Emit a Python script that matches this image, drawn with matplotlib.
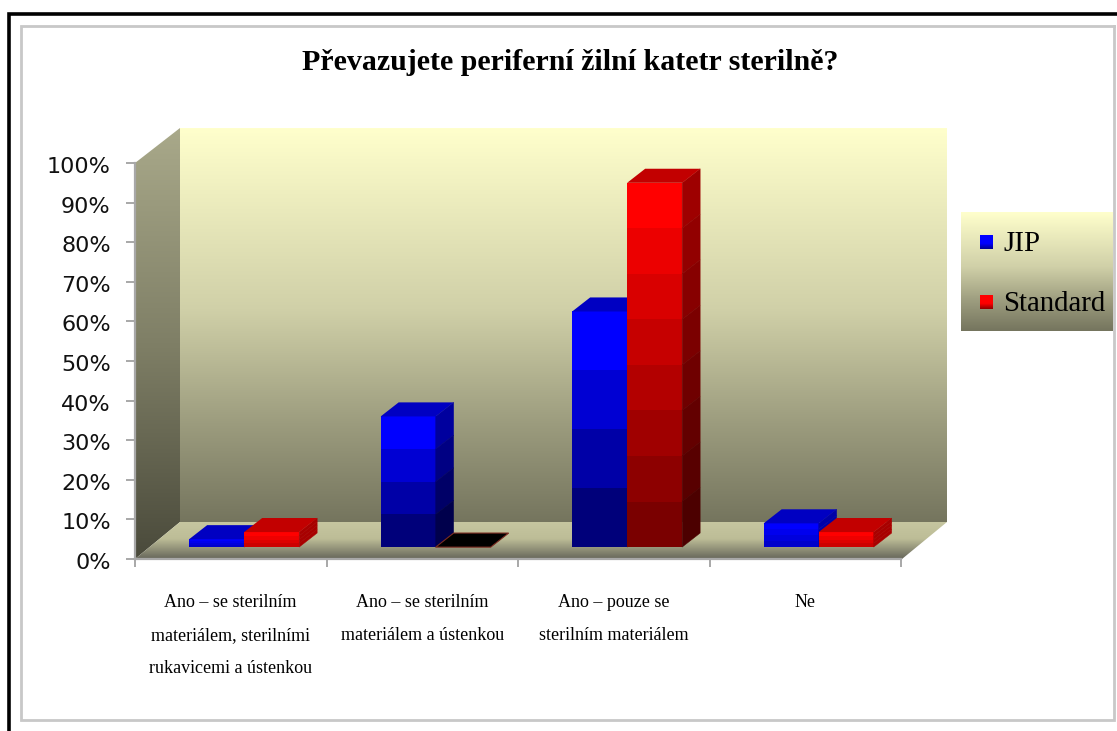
import matplotlib
matplotlib.use('Agg')
import matplotlib.pyplot as plt
import numpy as np
from matplotlib.colors import LinearSegmentedColormap, to_rgb
from matplotlib.patches import Polygon
from matplotlib.transforms import ScaledTranslation

categorias = ['Ano – se sterilním\nmateriálem, sterilními\nrukavicemi a ústenkou',
              'Ano – se sterilním\nmateriálem a ústenkou',
              'Ano – pouze se\nsterilním materiálem',
              'Ne']
jip = [2, 33, 59.5, 6]
standard = [3.8, 0, 92, 3.8]
serie_nomes = ['JIP', 'Standard']
yticks = [0, 10, 20, 30, 40, 50, 60, 70, 80, 90, 100]

W, H = 1117, 731
SERIF = 'Liberation Serif'

fig = plt.figure(figsize=(W / 100, H / 100), dpi=100)

# fundo em pixels: molduras e paredes do grafico
bg = fig.add_axes([0, 0, 1, 1])
bg.set_xlim(0, W)
bg.set_ylim(H, 0)
bg.axis('off')


def gradiente(axe, pts, stops):
    xs = [p[0] for p in pts]
    ys = [p[1] for p in pts]
    cmap = LinearSegmentedColormap.from_list('g', stops)
    grad = np.linspace(0, 1, 256).reshape(-1, 1)
    im = axe.imshow(grad, cmap=cmap, aspect='auto', interpolation='bilinear',
                    extent=(min(xs), max(xs), max(ys), min(ys)), zorder=2)
    poly = Polygon(pts, closed=True, transform=axe.transData, fc='none', ec='none')
    axe.add_patch(poly)
    im.set_clip_path(poly)
    axe.set_xlim(0, W)
    axe.set_ylim(H, 0)


# molduras
bg.plot([9, 9, W], [H, 14, 14], color='black', lw=2.6, solid_joinstyle='miter', zorder=1)
bg.plot([W - 3, 21, 21, W - 3, W - 3], [26, 26, 720, 720, 26], color='#c8c8c8', lw=2.0,
        solid_joinstyle='miter', zorder=1)

# parede do fundo, parede lateral e chao
parede_stops = [(0, '#FFFFCC'), (0.46, '#D0D0A8'), (0.75, '#9C9C7E'), (1, '#75755E')]
gradiente(bg, [(180, 128), (947, 128), (947, 522), (180, 522)], parede_stops)
gradiente(bg, [(135, 163), (180, 128), (180, 522), (135, 559)],
          [(0, '#A9A98A'), (0.5, '#7F7F66'), (1, '#4A4A3B')])
gradiente(bg, [(135, 559), (180, 522), (947, 522), (902, 559)],
          [(0, '#C6C6A0'), (0.45, '#BDBD97'), (1, '#66665A')])

# legenda
gradiente(bg, [(961, 212), (1113, 212), (1113, 331), (961, 331)], parede_stops)
for nome, cor, yl in zip(serie_nomes, ['#0000FF', '#FF0000'], [242, 302]):
    gradiente(bg, [(980, yl - 7), (993, yl - 7), (993, yl + 7), (980, yl + 7)],
              [(0, cor), (0.6, cor), (1, tuple(0.55 * c for c in to_rgb(cor)))])
    bg.text(1003, yl + 2, nome, family=SERIF, fontsize=20.8, va='center', ha='left', zorder=4)

bg.text(570, 62, 'Převazujete periferní žilní katetr sterilně?', family=SERIF,
        fontweight='bold', fontsize=21.5, ha='center', va='center', zorder=4)

# eixos com os dados: 0-100 % e quatro categorias
ax = fig.add_axes([135 / W, (H - 559) / H, 766 / W, 396 / H])
ax.patch.set_visible(False)
ax.set_xlim(0, 4)
ax.set_ylim(0, 100)
for lado in ['top', 'right']:
    ax.spines[lado].set_visible(False)
for lado in ['left', 'bottom']:
    ax.spines[lado].set_color('#a8a8a8')
    ax.spines[lado].set_linewidth(1.6)

ax.set_yticks(yticks)
ax.set_yticklabels([f'{v}%' for v in yticks], fontsize=16, color='#111111')
ax.tick_params(axis='y', length=6.5, width=1.2, color='#999999', pad=11)
desce = ScaledTranslation(0, -2 / 100, fig.dpi_scale_trans)
for rotulo in ax.get_yticklabels():
    rotulo.set_transform(rotulo.get_transform() + desce)
ax.set_xticks([0, 1, 2, 3, 4])
ax.set_xticklabels([])
ax.tick_params(axis='x', which='major', length=6, width=1.2, color='#999999')
ax.set_xticks([0.5, 1.5, 2.5, 3.5], minor=True)
ax.set_xticklabels(categorias, minor=True, family=SERIF, fontsize=13, linespacing=2.25,
                   va='top')
ax.tick_params(axis='x', which='minor', length=0, pad=25)

largura = 55 / 191.5
base_y = 3.0       # distancia da base da barra ate a frente do chao
fundo_x = 18 / 191.5
fundo_y = 3.55


def escurece(cor, f):
    return tuple(c * f for c in to_rgb(cor))


def barra_3d(x0, valor, cor, n_faixas, z):
    topo = base_y + valor
    xs_tampa = [x0, x0 + largura, x0 + largura + fundo_x, x0 + fundo_x]
    ys_tampa = [topo, topo, topo + fundo_y, topo + fundo_y]
    if valor == 0:
        ax.fill(xs_tampa, ys_tampa, fc='black', ec='#7a2a20', lw=0.8, zorder=z, clip_on=False)
        return
    # barras baixas quase nao escurecem
    niveis = np.linspace(1.0, 0.48 if valor > 10 else 0.8, n_faixas)
    alturas = valor / n_faixas
    xd = x0 + largura
    for i, f in enumerate(niveis):
        y1 = topo - i * alturas
        y0 = y1 - alturas
        ax.bar(x0, y1 - y0, bottom=y0, width=largura, align='edge',
               color=escurece(cor, f), lw=0, zorder=z, clip_on=False)
        cor_lado = escurece(cor, f * 0.62 if valor > 10 else 0.66)
        ax.fill([xd, xd + fundo_x, xd + fundo_x, xd],
                [y0, y0 + fundo_y, y1 + fundo_y, y1],
                fc=cor_lado, ec=cor_lado, lw=0.3, zorder=z, clip_on=False)
    ax.fill(xs_tampa, ys_tampa, fc=escurece(cor, 0.76), ec='none', zorder=z, clip_on=False)


for i in range(len(categorias)):
    centro = i + 0.57
    barra_3d(centro - largura, jip[i], '#0000FF', 4, 5 + 2 * i)
    barra_3d(centro, standard[i], '#FF0000', 8 if standard[i] > 50 else 4, 6 + 2 * i)

fig.savefig('out.png', dpi=100, facecolor='white')
